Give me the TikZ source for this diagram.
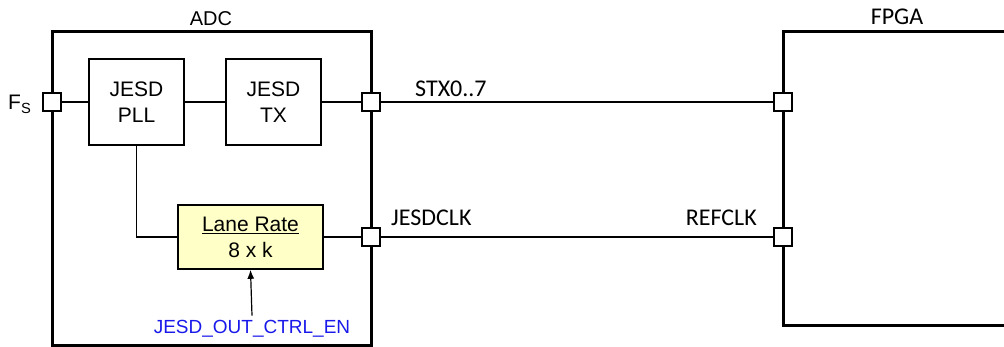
\documentclass[tikz,border=0pt]{standalone}
\usepackage{fontspec}
\setmainfont{Liberation Sans}
\newfontfamily\calibri{Carlito}
\usetikzlibrary{arrows.meta}
\definecolor{laneyellow}{RGB}{255,255,200}
\definecolor{ctrlblue}{RGB}{25,25,235}

\begin{document}
\begin{tikzpicture}[x=1pt,y=-1pt,>=Latex,
  blk/.style={draw,line width=1.6pt,align=center,inner sep=0pt,
    font=\fontsize{21}{26}\selectfont},
  port/.style={draw,line width=2pt,fill=white,minimum size=18pt,inner sep=0pt},
  wire/.style={line width=1.2pt},
  sig/.style={font=\calibri\fontsize{24}{28}\selectfont,inner sep=0pt}]

  \useasboundingbox (0,0) rectangle (1004,347);

  % ================= chip outlines =================
  \draw[line width=3pt] (52,32) rectangle (371,345.5);
  \draw[line width=3pt] (1010,32) -- (783,32) -- (783,326) -- (1010,326);

  \node[anchor=base,inner sep=0pt,font=\fontsize{20}{24}\selectfont] (adclbl) at (211,26) {ADC};
  \node[sig,anchor=base] (fpgalbl) at (897,25) {FPGA};

  % ================= ADC blocks =================
  \node[blk,minimum width=95pt,minimum height=86pt] (pll) at (136.5,102) {JESD\\PLL};
  \node[blk,minimum width=95pt,minimum height=86pt] (tx) at (273.5,102) {JESD\\TX};
  \node[blk,fill=laneyellow,minimum width=145pt,minimum height=64pt] (lane) at (250.5,237)
    {\underline{Lane Rate}\\8 x k};

  % ================= pins =================
  \node[port] (fs) at (52,102) {};
  \node[port] (stxo) at (371,102) {};
  \node[port] (clko) at (371,237) {};
  \node[port] (stxi) at (783,102) {};
  \node[port] (refi) at (783,237) {};

  \node[anchor=base west,inner sep=0pt,font=\fontsize{21}{25}\selectfont] (fslbl) at (8,110)
    {F\textsubscript{S}};

  % ================= wiring =================
  \draw[wire] (fs.east) -- (pll.west);
  \draw[wire] (pll.east) -- (tx.west);
  \draw[wire] (tx.east) -- (stxo.west);
  \draw[wire] (pll.south) |- (lane.west);
  \draw[wire] (lane.east) -- (clko.west);
  \draw[wire] (stxo.east) -- (stxi.west);
  \draw[wire] (clko.east) -- (refi.west);

  \node[sig,anchor=base west] (stxlbl) at (415,97) {STX0..7};
  \node[sig,anchor=base west] (clklbl) at (391,226) {JESDCLK};
  \node[sig,anchor=base east] (reflbl) at (757,226) {REFCLK};

  % ================= control input =================
  \node[anchor=base,inner sep=0pt,text=ctrlblue,font=\fontsize{19}{23}\selectfont] (ctrl) at (252,334)
    {JESD\_OUT\_CTRL\_EN};
  \draw[wire,-{Latex[length=9pt,width=7pt]}] ([yshift=5pt]ctrl.north) -- (lane.south);

\end{tikzpicture}
\end{document}
